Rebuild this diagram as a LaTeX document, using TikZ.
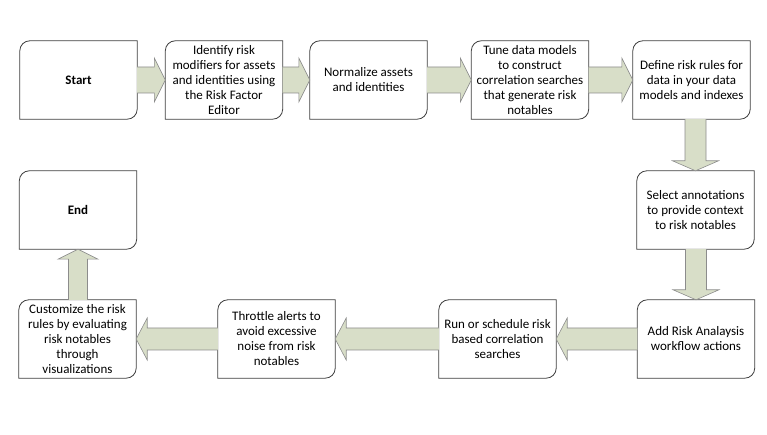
\documentclass[tikz,border=0pt]{standalone}
\usepackage{fontspec}
\setmainfont{Carlito}
\usetikzlibrary{calc}
\pgfdeclarelayer{background}
\pgfsetlayers{background,main}
\definecolor{arrfill}{RGB}{216,222,200}
\definecolor{arrline}{RGB}{140,140,140}
\definecolor{boxline}{RGB}{64,64,64}
\tikzset{
  stepbox/.style={minimum width=117pt, minimum height=78pt, inner sep=0pt, align=center,
    font=\fontsize{13pt}{15pt}\selectfont},
  boxedge/.style={draw=boxline, line width=0.8pt, fill=white},
  blockarr/.style={fill=arrfill, draw=arrline, line width=0.6pt, line join=miter}
}
\begin{document}
\begin{tikzpicture}[x=1pt,y=1pt]
\useasboundingbox (0,0) rectangle (767,435);
% nodes (y = 435 - pixel y)
\node[stepbox] (s)   at (78.5,355) {\textbf{Start}};
\node[stepbox] (b2)  at (224,355)  {Identify risk\\modifiers for assets\\and identities using\\the Risk Factor\\Editor};
\node[stepbox] (b3)  at (368.5,355) {Normalize assets\\and identities};
\node[stepbox] (b4)  at (530,355)  {Tune data models\\to construct\\correlation searches\\that generate risk\\notables};
\node[stepbox] (b5)  at (691.5,355) {Define risk rules for\\data in your data\\models and indexes};
\node[stepbox] (b6)  at (695.5,225) {Select annotations\\to provide context\\to risk notables};
\node[stepbox] (b7)  at (696,96)   {Add Risk Analaysis\\workflow actions};
\node[stepbox] (b8)  at (497.5,96) {Run or schedule risk\\based correlation\\searches};
\node[stepbox] (b9)  at (276.5,96) {Throttle alerts to\\avoid excessive\\noise from risk\\notables};
\node[stepbox] (b10) at (77.5,96)  {Customize the risk\\rules by evaluating\\risk notables\\through\\visualizations};
\node[stepbox] (e)   at (78,225)   {\textbf{End}};
% box outlines (rounded top-left and bottom-right)
\begin{pgfonlayer}{background}
\foreach \n in {s,b2,b3,b4,b5,b6,b7,b8,b9,b10,e}{
  \draw[boxedge] (\n.north east) -- ([xshift=10pt]\n.north west)
    arc[start angle=90,end angle=180,radius=10pt] -- (\n.south west)
    -- ([xshift=-10pt]\n.south east) arc[start angle=270,end angle=360,radius=10pt] -- cycle;
}
\end{pgfonlayer}
% right-pointing arrows (top row)
\foreach \a/\b in {s/b2,b2/b3,b3/b4,b4/b5}{
  \fill[arrfill] ($(\a.east)+(0,13)$) -- ($(\b.west)+(-11,13)$) -- ($(\b.west)+(-11,22)$) -- (\b.west)
    -- ($(\b.west)+(-11,-22)$) -- ($(\b.west)+(-11,-13)$) -- ($(\a.east)+(0,-13)$) -- cycle;
  \draw[blockarr,fill=none] ($(\a.east)+(0,13)$) -- ($(\b.west)+(-11,13)$) -- ($(\b.west)+(-11,22)$) -- (\b.west)
    -- ($(\b.west)+(-11,-22)$) -- ($(\b.west)+(-11,-13)$) -- ($(\a.east)+(0,-13)$);
}
% left-pointing arrows (bottom row)
\foreach \a/\b in {b7/b8,b8/b9,b9/b10}{
  \fill[arrfill] ($(\a.west)+(0,11)$) -- ($(\b.east)+(11,11)$) -- ($(\b.east)+(11,21)$) -- (\b.east)
    -- ($(\b.east)+(11,-21)$) -- ($(\b.east)+(11,-11)$) -- ($(\a.west)+(0,-11)$) -- cycle;
  \draw[blockarr,fill=none] ($(\a.west)+(0,11)$) -- ($(\b.east)+(11,11)$) -- ($(\b.east)+(11,21)$) -- (\b.east)
    -- ($(\b.east)+(11,-21)$) -- ($(\b.east)+(11,-11)$) -- ($(\a.west)+(0,-11)$);
}
% down arrows
\foreach \a/\b in {b5/b6,b6/b7}{
  \coordinate (t) at (\b.north |- \a.south);
  \fill[arrfill] ($(t)+(-10.5,0)$) -- ($(\b.north)+(-10.5,10)$) -- ($(\b.north)+(-23,10)$) -- (\b.north)
    -- ($(\b.north)+(23,10)$) -- ($(\b.north)+(10.5,10)$) -- ($(t)+(10.5,0)$) -- cycle;
  \draw[blockarr,fill=none] ($(t)+(-10.5,0)$) -- ($(\b.north)+(-10.5,10)$) -- ($(\b.north)+(-23,10)$) -- (\b.north)
    -- ($(\b.north)+(23,10)$) -- ($(\b.north)+(10.5,10)$) -- ($(t)+(10.5,0)$);
}
% up arrow
\coordinate (u) at (e.south |- b10.north);
\fill[arrfill] ($(u)+(-9.5,0)$) -- ($(e.south)+(-9.5,-10)$) -- ($(e.south)+(-20,-10)$) -- (e.south)
  -- ($(e.south)+(20,-10)$) -- ($(e.south)+(9.5,-10)$) -- ($(u)+(9.5,0)$) -- cycle;
\draw[blockarr,fill=none] ($(u)+(-9.5,0)$) -- ($(e.south)+(-9.5,-10)$) -- ($(e.south)+(-20,-10)$) -- (e.south)
  -- ($(e.south)+(20,-10)$) -- ($(e.south)+(9.5,-10)$) -- ($(u)+(9.5,0)$);
\end{tikzpicture}
\end{document}
